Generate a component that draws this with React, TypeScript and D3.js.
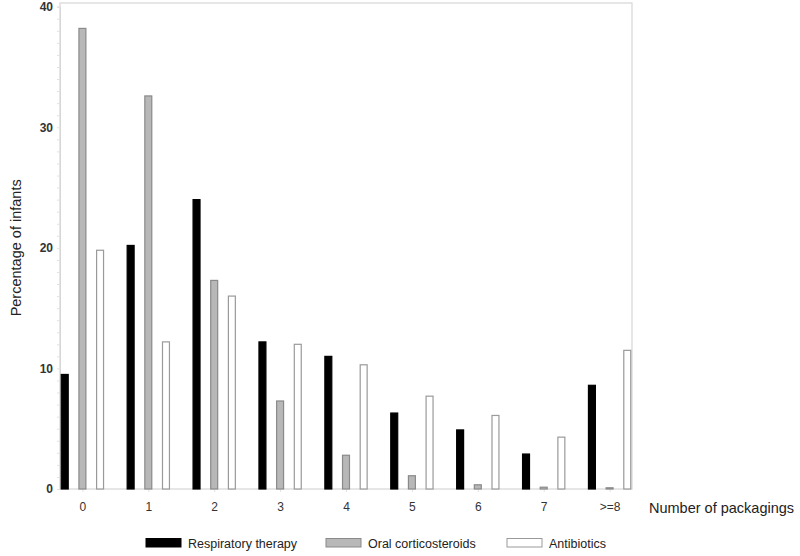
import { useEffect, useRef } from "react";
import * as d3 from "d3";

const CATEGORIES = ["0", "1", "2", "3", "4", "5", "6", "7", ">=8"];
const SERIES = ["Respiratory therapy", "Oral corticosteroids", "Antibiotics"];
const RESPIRATORY = [9.5, 20.2, 24.0, 12.2, 11.0, 6.3, 4.9, 2.9, 8.6];
const ORAL_CORTICO = [38.2, 32.6, 17.3, 7.3, 2.8, 1.1, 0.35, 0.15, 0.1];
const ANTIBIOTICS = [19.8, 12.2, 16.0, 12.0, 10.3, 7.7, 6.1, 4.3, 11.5];
const Y_TICKS = [0, 10, 20, 30, 40];

const FILL: Record<string, string> = {
  "Respiratory therapy": "#000000",
  "Oral corticosteroids": "#b8b8b8",
  "Antibiotics": "#ffffff",
};
const STROKE: Record<string, string> = {
  "Respiratory therapy": "#000000",
  "Oral corticosteroids": "#8a8a8a",
  "Antibiotics": "#9a9a9a",
};

const FONT = "'Liberation Sans', Arial, sans-serif";

function buildChart(svgEl: SVGSVGElement) {
  const width = 800;
  const height = 556;
  const left = 60, right = 632, top = 3, bottom = 489;

  const svg = d3.select(svgEl).attr("width", width).attr("height", height);
  svg.selectAll("*").remove();

  const values: Record<string, number[]> = {
    "Respiratory therapy": RESPIRATORY,
    "Oral corticosteroids": ORAL_CORTICO,
    "Antibiotics": ANTIBIOTICS,
  };

  const x = d3.scalePoint<string>().domain(CATEGORIES).range([left, right]).padding(0.34);
  const inner = d3.scaleBand<string>().domain(SERIES).range([-26.5, 26.5])
    .paddingInner(0.55).paddingOuter(0.275);
  const y = d3.scaleLinear().domain([0, 40]).range([bottom, 6.7]);

  // frame
  svg.append("rect")
    .attr("x", left).attr("y", top)
    .attr("width", right - left).attr("height", bottom - top)
    .attr("fill", "none").attr("stroke", "#d6d6d6").attr("stroke-width", 1.2);

  // y axis, minor ticks every unit
  const yAxis = svg.append("g")
    .attr("transform", `translate(${left},0)`)
    .call(d3.axisLeft(y).tickValues(d3.range(0, 41, 1)).tickSize(3).tickFormat(() => ""));
  yAxis.select(".domain").attr("stroke", "#d6d6d6");
  yAxis.selectAll("line").attr("stroke", "#e2e2e2");

  Y_TICKS.forEach(t => {
    svg.append("text")
      .attr("x", 53).attr("y", y(t))
      .attr("dy", "0.36em")
      .attr("text-anchor", "end")
      .attr("font-family", FONT)
      .attr("font-size", 12)
      .attr("font-weight", "bold")
      .attr("fill", "#333")
      .text(t);
  });

  // x axis
  const xAxis = svg.append("g")
    .attr("transform", `translate(0,${bottom})`)
    .call(d3.axisBottom(x).tickSize(3).tickPadding(10));
  xAxis.select(".domain").remove();
  xAxis.selectAll("line").attr("stroke", "#e2e2e2");
  xAxis.selectAll("text")
    .attr("font-family", FONT)
    .attr("font-size", 12)
    .attr("fill", "#333");

  // bars
  SERIES.forEach(s => {
    svg.append("g").selectAll("rect")
      .data(CATEGORIES.map((c, i) => ({ c, v: values[s][i] })))
      .enter()
      .append("rect")
      .attr("x", d => (x(d.c) as number) + (inner(s) as number) + 0.5)
      .attr("y", d => y(d.v))
      .attr("width", inner.bandwidth() - 1)
      .attr("height", d => bottom - y(d.v))
      .attr("fill", FILL[s])
      .attr("stroke", STROKE[s])
      .attr("stroke-width", 1.2);
  });

  // axis titles
  svg.append("text")
    .attr("transform", `translate(21,${(bottom + 6.7) / 2}) rotate(-90)`)
    .attr("text-anchor", "middle")
    .attr("font-family", FONT)
    .attr("font-size", 14.5)
    .attr("fill", "#222")
    .text("Percentage of infants");

  svg.append("text")
    .attr("x", 649).attr("y", 508)
    .attr("dy", "0.36em")
    .attr("font-family", FONT)
    .attr("font-size", 14.5)
    .attr("fill", "#222")
    .text("Number of packagings");

  // legend
  const legendX = [146, 326, 507];
  SERIES.forEach((s, i) => {
    const lx = legendX[i];
    svg.append("rect")
      .attr("x", lx).attr("y", 538.5)
      .attr("width", 35).attr("height", 8.5)
      .attr("fill", FILL[s])
      .attr("stroke", STROKE[s])
      .attr("stroke-width", 1);
    svg.append("text")
      .attr("x", lx + 42).attr("y", 543)
      .attr("dy", "0.36em")
      .attr("font-family", FONT)
      .attr("font-size", 12.5)
      .attr("fill", "#222")
      .text(s);
  });
}

export default function App() {
  const svgRef = useRef<SVGSVGElement | null>(null);

  useEffect(() => {
    document.body.style.margin = "0";
    if (svgRef.current) buildChart(svgRef.current);
  }, []);

  return (
    <div style={{ width: 800, height: 556, background: "#fff" }}>
      <svg ref={svgRef} style={{ display: "block" }} />
    </div>
  );
}
